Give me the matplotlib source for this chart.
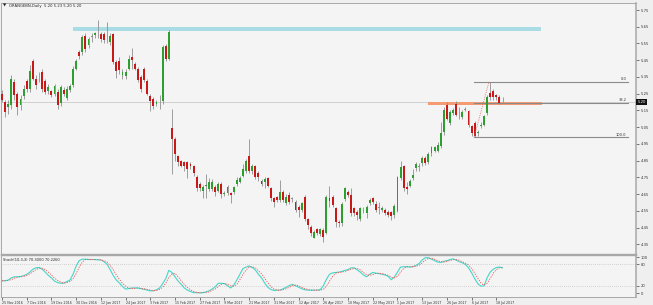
import matplotlib
matplotlib.use('Agg')
import matplotlib.pyplot as plt
from matplotlib.patches import Rectangle

symbol_title = 'ORANGEBN,Daily  5.20 5.23 5.20 5.20'
stoch_title = 'Stoch(10,3,3) 70.3000 70.2260'

date_labels = ["25 Nov 2016", "7 Dec 2016", "19 Dec 2016", "30 Dec 2016", "12 Jan 2017",
               "24 Jan 2017", "3 Feb 2017", "15 Feb 2017", "27 Feb 2017", "9 Mar 2017",
               "21 Mar 2017", "31 Mar 2017", "12 Apr 2017", "26 Apr 2017", "10 May 2017",
               "22 May 2017", "1 Jun 2017", "13 Jun 2017", "26 Jun 2017", "6 Jul 2017",
               "18 Jul 2017"]
bars_per_label = 8

opens = [
    5.25, 5.20, 5.17, 5.18, 5.32, 5.25, 5.18, 5.235, 5.325, 5.28,
    5.445, 5.34, 5.35, 5.38, 5.325, 5.265, 5.265, 5.25, 5.26, 5.195,
    5.27, 5.225, 5.27, 5.30, 5.40, 5.50, 5.50, 5.595, 5.54, 5.59,
    5.60, 5.63, 5.605, 5.605, 5.60, 5.56, 5.605, 5.44, 5.445, 5.36,
    5.355, 5.40, 5.47, 5.43, 5.40, 5.35, 5.40, 5.325, 5.235, 5.22,
    5.19, 5.20, 5.205, 5.535, 5.455, 5.043, 4.98, 4.875, 4.845, 4.84,
    4.84, 4.83, 4.815, 4.755, 4.71, 4.67, 4.70, 4.68, 4.68, 4.695,
    4.67, 4.71, 4.65, 4.655, 4.655, 4.66, 4.71, 4.725, 4.76, 4.785,
    4.875, 4.785, 4.815, 4.775, 4.73, 4.72, 4.745, 4.685, 4.625, 4.63,
    4.615, 4.665, 4.595, 4.645, 4.625, 4.605, 4.575, 4.555, 4.635, 4.50,
    4.455, 4.39, 4.44, 4.41, 4.435, 4.42, 4.625, 4.635, 4.565, 4.485,
    4.475, 4.62, 4.665, 4.645, 4.565, 4.545, 4.50, 4.55, 4.535, 4.595,
    4.625, 4.59, 4.57, 4.555, 4.555, 4.545, 4.54, 4.525, 4.55, 4.745,
    4.815, 4.69, 4.70, 4.745, 4.805, 4.815, 4.835, 4.865, 4.84, 4.895,
    4.91, 4.91, 4.935, 5.02, 5.185, 5.075, 5.135, 5.19, 5.135, 5.11,
    5.155, 5.145, 5.055, 5.075, 5.015, 5.055, 5.065, 5.135, 5.255, 5.265,
    5.24, 5.23, 5.20]

highs = [
    5.27, 5.21, 5.21, 5.36, 5.34, 5.26, 5.24, 5.30, 5.34, 5.42,
    5.46, 5.36, 5.38, 5.40, 5.34, 5.31, 5.27, 5.31, 5.28, 5.30,
    5.29, 5.295, 5.31, 5.415, 5.46, 5.51, 5.60, 5.61, 5.59, 5.61,
    5.62, 5.69, 5.62, 5.62, 5.68, 5.61, 5.61, 5.45, 5.47, 5.395,
    5.40, 5.48, 5.52, 5.44, 5.41, 5.36, 5.41, 5.34, 5.25, 5.23,
    5.21, 5.24, 5.54, 5.545, 5.63, 5.16, 4.99, 4.885, 4.855, 4.85,
    4.85, 4.84, 4.825, 4.765, 4.72, 4.705, 4.77, 4.745, 4.74, 4.705,
    4.72, 4.72, 4.67, 4.705, 4.665, 4.70, 4.755, 4.76, 4.83, 4.86,
    4.977, 4.83, 4.825, 4.785, 4.74, 4.75, 4.755, 4.695, 4.635, 4.64,
    4.735, 4.675, 4.65, 4.66, 4.635, 4.615, 4.585, 4.605, 4.645, 4.51,
    4.465, 4.435, 4.45, 4.45, 4.445, 4.645, 4.70, 4.645, 4.575, 4.495,
    4.60, 4.695, 4.675, 4.685, 4.575, 4.555, 4.575, 4.57, 4.585, 4.625,
    4.635, 4.61, 4.60, 4.58, 4.565, 4.555, 4.55, 4.59, 4.76, 4.85,
    4.825, 4.72, 4.74, 4.80, 4.84, 4.835, 4.875, 4.875, 4.90, 4.94,
    4.94, 4.96, 5.08, 5.17, 5.20, 5.15, 5.165, 5.205, 5.17, 5.15,
    5.17, 5.155, 5.065, 5.085, 5.03, 5.08, 5.125, 5.24, 5.32, 5.275,
    5.25, 5.24, 5.23]

lows = [
    5.20, 5.11, 5.13, 5.16, 5.21, 5.12, 5.15, 5.22, 5.26, 5.26,
    5.33, 5.28, 5.32, 5.26, 5.25, 5.25, 5.23, 5.235, 5.16, 5.175,
    5.235, 5.21, 5.26, 5.29, 5.39, 5.46, 5.48, 5.50, 5.52, 5.56,
    5.58, 5.58, 5.56, 5.55, 5.55, 5.54, 5.43, 5.345, 5.37, 5.34,
    5.34, 5.39, 5.40, 5.39, 5.32, 5.26, 5.32, 5.24, 5.145, 5.16,
    5.175, 5.16, 5.19, 5.445, 5.45, 4.77, 4.85, 4.82, 4.81, 4.785,
    4.745, 4.80, 4.76, 4.67, 4.67, 4.625, 4.625, 4.67, 4.67, 4.64,
    4.66, 4.625, 4.64, 4.645, 4.595, 4.65, 4.70, 4.715, 4.75, 4.775,
    4.775, 4.77, 4.74, 4.73, 4.70, 4.685, 4.69, 4.61, 4.57, 4.605,
    4.605, 4.605, 4.585, 4.59, 4.605, 4.545, 4.515, 4.545, 4.49, 4.44,
    4.40, 4.385, 4.405, 4.40, 4.365, 4.41, 4.57, 4.575, 4.455, 4.455,
    4.46, 4.61, 4.635, 4.52, 4.52, 4.495, 4.49, 4.535, 4.505, 4.585,
    4.59, 4.54, 4.53, 4.545, 4.525, 4.515, 4.495, 4.51, 4.54, 4.735,
    4.67, 4.65, 4.69, 4.735, 4.79, 4.79, 4.82, 4.825, 4.83, 4.88,
    4.90, 4.90, 4.925, 5.005, 5.09, 5.06, 5.12, 5.115, 5.10, 5.10,
    5.145, 5.05, 5.00, 4.99, 5.00, 5.045, 5.055, 5.12, 5.215, 5.215,
    5.215, 5.19, 5.20]

closes = [
    5.21, 5.14, 5.19, 5.34, 5.24, 5.17, 5.22, 5.28, 5.28, 5.385,
    5.34, 5.30, 5.35, 5.28, 5.26, 5.29, 5.24, 5.295, 5.18, 5.29,
    5.25, 5.28, 5.295, 5.40, 5.445, 5.475, 5.59, 5.515, 5.575, 5.59,
    5.61, 5.63, 5.575, 5.57, 5.60, 5.595, 5.44, 5.385, 5.39, 5.38,
    5.38, 5.46, 5.45, 5.40, 5.33, 5.28, 5.33, 5.25, 5.205, 5.175,
    5.20, 5.20, 5.53, 5.455, 5.62, 4.977, 4.89, 4.84, 4.82, 4.815,
    4.80, 4.815, 4.775, 4.685, 4.685, 4.695, 4.705, 4.725, 4.725, 4.66,
    4.71, 4.65, 4.655, 4.695, 4.645, 4.69, 4.735, 4.745, 4.80, 4.85,
    4.785, 4.815, 4.75, 4.75, 4.71, 4.74, 4.70, 4.625, 4.605, 4.615,
    4.665, 4.615, 4.635, 4.605, 4.625, 4.555, 4.555, 4.595, 4.50, 4.465,
    4.415, 4.425, 4.415, 4.44, 4.395, 4.635, 4.61, 4.585, 4.485, 4.475,
    4.59, 4.685, 4.645, 4.535, 4.535, 4.525, 4.565, 4.55, 4.575, 4.615,
    4.605, 4.555, 4.57, 4.565, 4.535, 4.525, 4.52, 4.58, 4.75, 4.81,
    4.685, 4.68, 4.73, 4.765, 4.83, 4.815, 4.865, 4.835, 4.89, 4.93,
    4.93, 4.945, 5.015, 5.155, 5.10, 5.14, 5.155, 5.125, 5.135, 5.14,
    5.155, 5.06, 5.015, 4.995, 5.02, 5.065, 5.115, 5.23, 5.23, 5.23,
    5.23, 5.195, 5.20]

stoch_main = [
    34, 34, 36, 42, 45, 45, 46, 48, 52, 58,
    66, 70, 71, 66, 58, 49, 42, 33, 29, 27,
    27, 32, 36, 52, 75, 90, 94, 94, 93, 93,
    93, 92, 92, 87, 80, 65, 49, 36, 28, 18,
    11, 12, 14, 14, 14, 12, 10, 8, 6, 6,
    9, 14, 26, 40, 63, 57, 45, 33, 24, 14,
    8, 4, 1, 1, 0, 1, 3, 6, 11, 17,
    27, 27, 26, 20, 14, 22, 36, 52, 68, 72,
    75, 71, 64, 52, 42, 28, 16, 10, 7, 8,
    8, 12, 16, 21, 24, 20, 16, 12, 9, 8,
    8, 8, 8, 9, 20, 38, 52, 56, 57, 58,
    60, 63, 65, 70, 70, 64, 58, 50, 45, 52,
    57, 55, 54, 52, 50, 46, 37, 44, 58, 72,
    73, 73, 72, 73, 77, 82, 92, 98, 98, 94,
    90, 86, 85, 88, 90, 93, 95, 91, 87, 84,
    79, 70, 56, 40, 26, 19, 20, 42, 58, 66,
    71, 72, 70.3]

stoch_signal = [
    34, 34, 35, 37, 41, 44, 45, 46, 49, 53,
    59, 65, 69, 69, 65, 58, 50, 41, 35, 30,
    28, 29, 32, 40, 54, 72, 86, 93, 94, 93,
    93, 93, 92, 90, 86, 77, 65, 50, 38, 27,
    19, 14, 12, 13, 14, 13, 12, 10, 8, 7,
    7, 10, 16, 27, 43, 53, 55, 45, 34, 24,
    15, 9, 4, 2, 1, 1, 1, 3, 7, 11,
    18, 24, 27, 24, 20, 19, 24, 37, 52, 64,
    72, 73, 70, 62, 53, 41, 29, 18, 11, 8,
    8, 9, 12, 16, 20, 22, 20, 16, 12, 10,
    8, 8, 8, 8, 10, 19, 33, 46, 55, 57,
    58, 60, 63, 66, 68, 68, 64, 57, 51, 49,
    51, 55, 55, 54, 52, 49, 44, 42, 46, 58,
    68, 73, 73, 73, 74, 77, 84, 91, 96, 97,
    94, 90, 87, 86, 88, 90, 93, 93, 91, 87,
    83, 78, 68, 55, 41, 28, 22, 27, 40, 55,
    65, 70, 70.226]

price_ticks = [5.75, 5.65, 5.55, 5.45, 5.35, 5.25, 5.15, 5.05, 4.95, 4.85,
               4.75, 4.65, 4.55, 4.45, 4.35]
stoch_ticks = [100, 80, 20, 0]
stoch_levels = [80, 20]
last_price = 5.20

# zones / fibonacci (price levels, x in bar units)
resistance_zone = (23.0, 174.4, 5.624, 5.648)
support_zone = (137.9, 174.8, 5.184, 5.199)
fib_start_bar, fib_end_bar = 152.8, 202.6
fib_low, fib_high = 4.99, 5.32
fib_levels = [(0.0, "0.0"), (38.2, "38.2"), (100.0, "100.0")]

W, H = 653, 305
BG = '#f4f4f4'
fig = plt.figure(figsize=(W / 100, H / 100), dpi=100, facecolor='#efefef')


def px_axes(x0, y0, x1, y1):
    return fig.add_axes([x0 / W, 1 - y1 / H, (x1 - x0) / W, (y1 - y0) / H])


ax = px_axes(1, 3, 636, 253.5)
ax2 = px_axes(1, 255, 636, 297)
XL = (-0.32, 205.2)

for a in (ax, ax2):
    a.set_facecolor(BG)
    a.set_xlim(*XL)
    for s in a.spines.values():
        s.set_color('#a8a8a8')
        s.set_linewidth(0.7)
    a.spines['right'].set_linewidth(1.1)
ax.spines['bottom'].set_linewidth(1.0)
ax2.spines['top'].set_linewidth(1.0)

# ---- candles
n = len(closes)
xs = list(range(n))
UP, DN, DOJI, WICK = '#2f9e30', '#c81818', '#8c8c8c', '#8f8f8f'
ax.vlines(xs, lows, highs, color=WICK, lw=0.6, zorder=2)
bot, hgt, cols = [], [], []
for o, c in zip(opens, closes):
    if abs(c - o) < 1e-9:
        bot.append(o - 0.002)
        hgt.append(0.004)
        cols.append(DOJI)
    else:
        bot.append(min(o, c))
        hgt.append(abs(c - o))
        cols.append(UP if c > o else DN)
ax.bar(xs, hgt, bottom=bot, width=0.62, color=cols, linewidth=0, zorder=3)

ax.set_ylim(4.2949, 5.7919)
ax.axhline(last_price, color='#cfcfcf', lw=0.7, zorder=1)

# zones
x0, x1, y0, y1 = resistance_zone
ax.add_patch(Rectangle((x0, y0), x1 - x0, y1 - y0, facecolor='#a9dce4', edgecolor='none', zorder=1.5))
x0, x1, y0, y1 = support_zone
ax.add_patch(Rectangle((x0, y0), x1 - x0, y1 - y0, facecolor='#f59b74', edgecolor='none', zorder=1.6))

# fibonacci
for lvl, lab in fib_levels:
    p = fib_high - (fib_high - fib_low) * lvl / 100.0
    ax.plot([fib_start_bar, fib_end_bar], [p, p], color='#8a8a8a', lw=0.8, zorder=2.5)
    ax.text(fib_end_bar - 0.5, p + 0.004, lab, fontsize=2.6, ha='right', va='bottom', color='#333333')
ax.plot([fib_start_bar, fib_start_bar + 4.8], [fib_low, fib_high], ls=(0, (1, 1.2)), color='#e46a6a', lw=0.6, zorder=4)

ax.yaxis.tick_right()
ax.set_yticks(price_ticks)
ax.set_yticklabels([f'{t:.2f}' for t in price_ticks])
ax.tick_params(axis='y', length=2, width=0.5, pad=1.5, labelsize=2.7, colors='#444444', labelcolor='#333333')
ax.set_xticks([])
ax.text(1.002, last_price, f'{last_price:.2f}', transform=ax.get_yaxis_transform(), fontsize=2.7,
        color='white', ha='left', va='center',
        bbox=dict(boxstyle='square,pad=0.25', facecolor='#111111', edgecolor='none'), zorder=10)

# ---- stochastic
ax2.plot(xs, stoch_main, color='#44d6c8', lw=0.8, zorder=3)
ax2.plot(xs, stoch_signal, color='#f05050', lw=0.6, ls=(0, (1.5, 1.5)), zorder=3)
for lv in stoch_levels:
    ax2.axhline(lv, color='#b0b0b0', lw=0.5, ls=(0, (1, 2)), zorder=1)
ax2.set_ylim(-11.1, 105.6)
ax2.yaxis.tick_right()
ax2.set_yticks(stoch_ticks)
ax2.set_yticklabels([str(t) for t in stoch_ticks])
ax2.tick_params(axis='y', length=2, width=0.5, pad=1.5, labelsize=2.7, colors='#444444', labelcolor='#333333')
tick_pos = [k * bars_per_label for k in range(len(date_labels))]
ax2.set_xticks(tick_pos)
ax2.set_xticklabels(date_labels, ha='left')
ax2.tick_params(axis='x', length=2, width=0.5, pad=0.8, labelsize=2.3, colors='#444444', labelcolor='#333333')

fig.text(3 / W, 1 - 5.5 / H, '\u25BC', fontsize=3, color='#222222', va='center', ha='left')
fig.text(9 / W, 1 - 5.5 / H, symbol_title, fontsize=2.7, color='#222222', va='center', ha='left')
ax2.text(0.003, 0.93, stoch_title, transform=ax2.transAxes, fontsize=2.6, color='#222222', va='top', ha='left')

fig.savefig('out.png', dpi=100, facecolor=fig.get_facecolor())
